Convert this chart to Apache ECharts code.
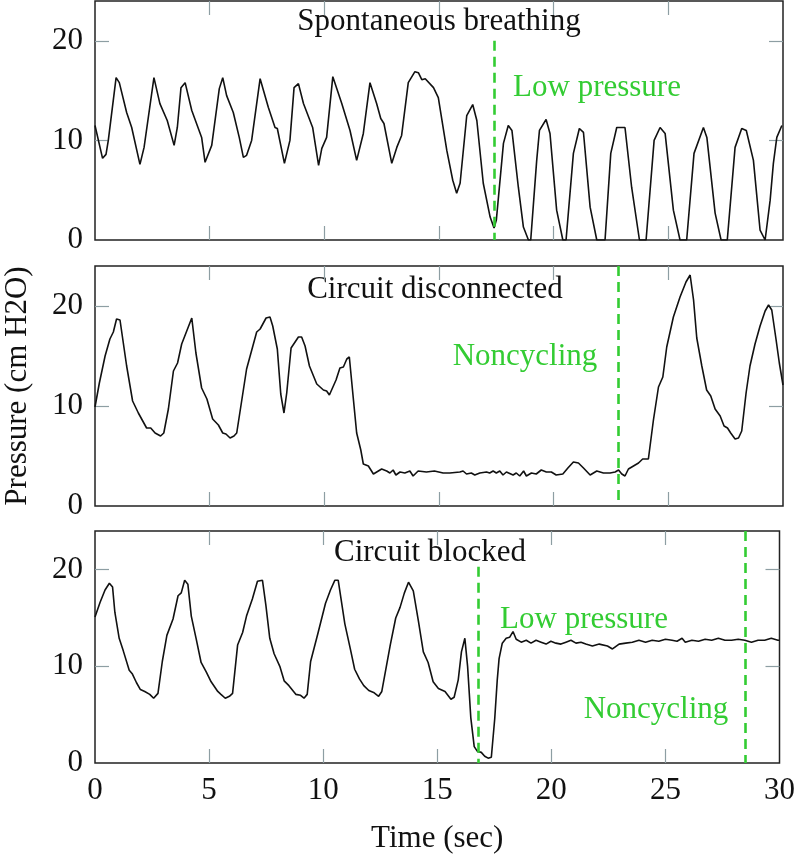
<!DOCTYPE html>
<html>
<head>
<meta charset="utf-8">
<script src="https://cdn.jsdelivr.net/npm/echarts@6/dist/echarts.min.js"></script>
<style>
  html, body { margin: 0; padding: 0; background: #fff; }
  #chart { width: 798px; height: 855px; }
</style>
</head>
<body>
<div id="chart"></div>
<script>
// panel 1 - spontaneous breathing
const time1 = [0, 0.33, 0.48, 0.58, 0.92, 1.06, 1.38, 1.6, 1.96, 2.14, 2.57, 2.83, 3.15, 3.45, 3.59, 3.75, 3.93, 4.22, 4.65, 4.8,
  5.09, 5.42, 5.57, 5.74, 6.03, 6.29, 6.47, 6.61, 6.83, 7.2, 7.56, 7.85, 7.95, 8.26, 8.5, 8.68, 8.87, 9.09, 9.49, 9.75,
  9.89, 10.1, 10.37, 10.76, 11.12, 11.41, 11.7, 11.99, 12.28, 12.46, 12.6, 12.94, 13.16, 13.37, 13.66, 13.95, 14.1, 14.25, 14.4, 14.76,
  14.97, 15.34, 15.6, 15.77, 15.92, 16.21, 16.47, 16.65, 16.93, 17.23, 17.4, 17.5, 17.81, 18.02, 18.18, 18.46, 18.68, 18.9, 19.0, 19.26,
  19.38, 19.67, 19.84, 20.13, 20.4, 20.54, 20.86, 21.12, 21.3, 21.59, 21.88, 22.24, 22.49, 22.75, 23.11, 23.4, 23.74, 24.03, 24.38, 24.64,
  24.86, 25.22, 25.51, 25.8, 26.12, 26.53, 26.68, 27.04, 27.3, 27.57, 27.91, 28.2, 28.4, 28.71, 29.0, 29.22, 29.44, 29.58, 29.73, 29.95];
const pressure1 = [11.5, 8.2, 8.6, 10, 16.3, 15.8, 12.8, 11.3, 7.6, 9.3, 16.3, 13.7, 12, 9.5, 11.3, 15.3, 15.8, 13, 10.3, 7.8,
  9.5, 15.2, 16.3, 14.5, 12.8, 10.3, 8.3, 8.5, 10, 16.2, 13.3, 11.3, 11.2, 7.7, 10, 15.3, 15.7, 13.7, 11.3, 7.5,
  9.2, 10.3, 16.4, 13.7, 11, 8, 10.7, 15.8, 13.7, 12.2, 11.7, 7.7, 9.3, 10.5, 15.8, 16.9, 16.8, 16.1, 16.2, 15.3,
  14.3, 9, 6, 4.7, 5.7, 12.5, 13.6, 12, 5.7, 2.3, 1.2, 2, 9.7, 11.5, 11, 5.3, 1.3, 0, 0, 8,
  11, 12.1, 10.7, 3, 0, 0, 8.7, 11.2, 10.8, 3.3, 0, 0, 8.7, 11.3, 11.3, 5.3, 0, 0, 10, 11.3,
  10.7, 3, 0, 0, 8.7, 11.3, 10.3, 2.7, 0, 0, 9.3, 11.2, 11, 8, 1, 0, 4, 7.7, 10.3, 11.5];

// panel 2 - circuit disconnected
const time2 = [0, 0.19, 0.44, 0.65, 0.8, 0.94, 1.09, 1.38, 1.64, 1.89, 2.25, 2.43, 2.62, 2.86, 3.0, 3.2, 3.42, 3.6, 3.78, 4.0,
  4.22, 4.4, 4.65, 4.88, 5.13, 5.38, 5.57, 5.71, 5.89, 6.06, 6.18, 6.61, 7.05, 7.2, 7.46, 7.63, 7.75, 7.95, 8.1, 8.24,
  8.36, 8.55, 8.87, 9.01, 9.16, 9.35, 9.67, 9.96, 10.1, 10.22, 10.51, 10.68, 10.83, 10.98, 11.09, 11.27, 11.41, 11.59, 11.7, 11.92,
  12.14, 12.5, 12.72, 12.86, 13.0, 13.12, 13.3, 13.51, 13.73, 13.87, 14.09, 14.45, 14.8, 15.18, 15.47, 15.91, 16.05, 16.2, 16.41, 16.56,
  16.78, 17.07, 17.21, 17.36, 17.5, 17.65, 17.79, 17.94, 18.23, 18.37, 18.52, 18.69, 18.81, 19.03, 19.24, 19.46, 19.68, 19.9, 20.11, 20.4,
  20.62, 20.86, 21.08, 21.3, 21.59, 21.88, 22.17, 22.46, 22.68, 22.83, 22.97, 23.11, 23.26, 23.48, 23.7, 23.88, 24.13, 24.35, 24.57, 24.76,
  24.93, 25.22, 25.51, 25.77, 25.95, 26.1, 26.24, 26.46, 26.67, 26.85, 27.04, 27.26, 27.43, 27.58, 27.72, 27.91, 28.06, 28.2, 28.39, 28.56,
  28.78, 29.0, 29.22, 29.37, 29.51, 29.7, 29.84, 30];
const pressure2 = [9.9, 12.3, 15, 16.7, 17.4, 18.7, 18.6, 14, 10.5, 9.3, 7.8, 7.8, 7.3, 7, 7.3, 9.7, 13.5, 14.3, 16.2, 17.5,
  18.8, 15.3, 11.8, 10.7, 8.7, 8.1, 7.3, 7.2, 6.8, 7, 7.3, 13.7, 17.4, 17.7, 18.8, 18.9, 18, 15.7, 11.2, 9.3,
  11.3, 15.8, 16.9, 16.9, 16, 14, 12.2, 11.6, 11.5, 11.1, 12.6, 13.8, 13.9, 14.7, 14.9, 10.6, 7.3, 5.6, 4.2, 4.0,
  3.2, 3.7, 3.5, 3.3, 3.6, 3.1, 3.4, 3.3, 3.5, 3.0, 3.5, 3.4, 3.5, 3.3, 3.3, 3.4, 3.5, 3.2, 3.3, 3.1,
  3.3, 3.4, 3.3, 3.5, 3.3, 3.5, 3.1, 3.4, 3.1, 3.3, 3.0, 3.5, 3.0, 3.3, 3.2, 3.6, 3.4, 3.4, 3.1, 3.2,
  3.8, 4.4, 4.3, 3.8, 3.1, 3.5, 3.3, 3.3, 3.4, 3.6, 3.2, 3.0, 3.7, 4.0, 4.3, 4.7, 4.7, 8.6, 11.9, 12.9,
  15.9, 18.9, 20.9, 22.4, 23.1, 20.6, 16.8, 14, 11.6, 11, 9.7, 9, 8, 7.8, 7.3, 6.7, 6.8, 7.5, 11.3, 14,
  16.2, 18, 19.5, 20.1, 19.6, 16.6, 14.3, 12.1];

// panel 3 - circuit blocked
const time3 = [0, 0.22, 0.44, 0.63, 0.77, 0.87, 1.06, 1.24, 1.5, 1.64, 1.82, 1.99, 2.18, 2.4, 2.57, 2.76, 2.95, 3.15, 3.42, 3.64,
  3.78, 3.93, 4.07, 4.22, 4.43, 4.65, 4.88, 5.09, 5.38, 5.52, 5.71, 5.89, 6.03, 6.25, 6.47, 6.64, 6.9, 7.12, 7.34, 7.49,
  7.66, 7.85, 8.1, 8.29, 8.5, 8.8, 9.01, 9.16, 9.3, 9.45, 9.78, 10.1, 10.32, 10.51, 10.66, 10.95, 11.2, 11.38, 11.59, 11.78,
  12.0, 12.21, 12.43, 12.57, 12.94, 13.18, 13.37, 13.56, 13.74, 13.95, 14.18, 14.39, 14.6, 14.82, 15.05, 15.34, 15.6, 15.74, 15.92, 16.06,
  16.21, 16.33, 16.47, 16.62, 16.76, 16.93, 17.08, 17.23, 17.37, 17.52, 17.63, 17.71, 17.85, 18.02, 18.17, 18.32, 18.46, 18.68, 18.9, 19.11,
  19.33, 19.55, 19.77, 19.98, 20.2, 20.42, 20.64, 20.86, 21.08, 21.3, 21.51, 21.8, 22.1, 22.46, 22.68, 22.97, 23.26, 23.55, 23.84, 24.13,
  24.42, 24.71, 25.0, 25.29, 25.51, 25.73, 25.87, 26.16, 26.45, 26.74, 27.03, 27.32, 27.61, 27.9, 28.19, 28.48, 28.77, 29.06, 29.35, 29.64,
  29.93, 30];
const pressure3 = [15.1, 16.6, 17.9, 18.6, 18.2, 15.6, 12.9, 11.6, 9.6, 9.2, 8.3, 7.6, 7.4, 7.1, 6.7, 7.2, 10.5, 13.2, 14.9, 17.3,
  17.6, 18.9, 18.5, 15.2, 12.9, 10.4, 9.4, 8.4, 7.4, 7.1, 6.7, 6.9, 7.2, 12.2, 13.5, 15.2, 17, 18.8, 18.9, 16.3,
  12.9, 11.3, 10, 8.5, 8, 7.1, 7, 6.7, 7.1, 10.5, 13.5, 16.5, 17.9, 18.9, 18.9, 14.4, 11.7, 9.7, 8.7, 8,
  7.5, 7.3, 6.9, 7.4, 12.2, 15, 16.1, 17.6, 18.7, 17.8, 14.6, 11.5, 10.4, 8.4, 7.7, 7.4, 6.6, 6.8, 8.6, 11.5,
  12.9, 10, 4.7, 1.7, 1.2, 1.1, 0.7, 0.5, 0.6, 4.6, 8.6, 10.8, 12.4, 12.9, 13.0, 13.6, 12.8, 12.5, 12.7, 12.4,
  12.7, 12.5, 12.3, 12.6, 12.4, 12.3, 12.5, 12.7, 12.4, 12.5, 12.3, 12.1, 12.3, 12.1, 11.8, 12.3, 12.4, 12.5, 12.7, 12.5,
  12.7, 12.6, 12.8, 12.7, 12.6, 12.9, 12.5, 12.7, 12.6, 12.8, 12.7, 12.9, 12.7, 12.7, 12.8, 12.7, 12.5, 12.7, 12.7, 12.9,
  12.7, 12.7];

const panelTitles = ['Spontaneous breathing', 'Circuit disconnected', 'Circuit blocked'];
// alarm markers: time of dashed line and the pressure where it starts
const alarmTimes = [[17.4], [22.8], [16.8, 28.5]];
const alarmTops = [[20], [24], [20.3, 24]];

const timeLabels = [0, 5, 10, 15, 20, 25, 30];
const timeTicks = [5, 10, 15, 20, 25];
const pressureLabels = [0, 10, 20];
const pressureTicks = [10, 20];

const times = [time1, time2, time3];
const pressures = [pressure1, pressure2, pressure3];

const FONT = '"Liberation Serif", "Times New Roman", serif';
const GREEN = '#33cc33';
const TICK = '#8d9ea3';
const tops = [1, 266, 531];

const chart = echarts.init(document.getElementById('chart'));

const grid = [], xAxis = [], yAxis = [], series = [];

tops.forEach((top, i) => {
  grid.push({ left: 95, right: 15, top: top, height: i === 0 ? 239 : 240, show: true, borderColor: '#222', borderWidth: 1.5, backgroundColor: 'transparent' });

  ['bottom', 'top'].forEach(pos => {
    xAxis.push({
      type: 'value', gridIndex: i, position: pos, min: 0, max: 30,
      axisLine: { show: false, onZero: false },
      splitLine: { show: false },
      axisTick: { show: true, inside: true, length: 14, customValues: timeTicks, lineStyle: { color: TICK, width: 1.2 } },
      axisLabel: {
        show: pos === 'bottom' && i === 2, customValues: timeLabels, margin: 12,
        fontFamily: FONT, fontSize: 31, color: '#111'
      },
      name: pos === 'bottom' && i === 2 ? 'Time (sec)' : '',
      nameLocation: 'middle', nameGap: 60,
      nameTextStyle: { fontFamily: FONT, fontSize: 31, color: '#111' }
    });
  });

  ['left', 'right'].forEach(pos => {
    yAxis.push({
      type: 'value', gridIndex: i, position: pos, min: 0, max: 24,
      axisLine: { show: false, onZero: false },
      splitLine: { show: false },
      axisTick: { show: true, inside: true, length: 14, customValues: pressureTicks, lineStyle: { color: TICK, width: 1.2 } },
      axisLabel: {
        show: pos === 'left', customValues: pressureLabels, margin: 12,
        fontFamily: FONT, fontSize: 31, color: '#111'
      }
    });
  });

  const marks = alarmTimes[i].map((t, k) => [
    { coord: [t, alarmTops[i][k]] },
    { coord: [t, 0] }
  ]);

  series.push({
    type: 'line', xAxisIndex: i * 2, yAxisIndex: i * 2,
    data: times[i].map((t, k) => [t, pressures[i][k]]),
    showSymbol: false, symbol: 'none', clip: true,
    lineStyle: { color: '#111', width: 1.6 },
    markLine: {
      silent: true, symbol: 'none',
      label: { show: false },
      lineStyle: { color: GREEN, type: [10, 6], width: 2.6 },
      data: marks
    }
  });
});

const text = (str, x, y, color, extra) => Object.assign({
  type: 'text', x: x, y: y, silent: true,
  style: { text: str, font: '31px ' + FONT, fill: color, align: 'center', verticalAlign: 'middle' }
}, extra || {});

chart.setOption({
  animation: false,
  backgroundColor: '#fff',
  grid: grid,
  xAxis: xAxis,
  yAxis: yAxis,
  series: series,
  graphic: [
    text(panelTitles[0], 439, 22, '#111'),
    text(panelTitles[1], 435, 290, '#111'),
    text(panelTitles[2], 430, 553, '#111'),
    text('Low pressure', 597, 88, GREEN),
    text('Noncycling', 525, 357, GREEN),
    text('Low pressure', 584, 620, GREEN),
    text('Noncycling', 656, 710, GREEN),
    text('Pressure (cm H2O)', 18, 386, '#111', { rotation: Math.PI / 2 })
  ]
});
</script>
</body>
</html>
